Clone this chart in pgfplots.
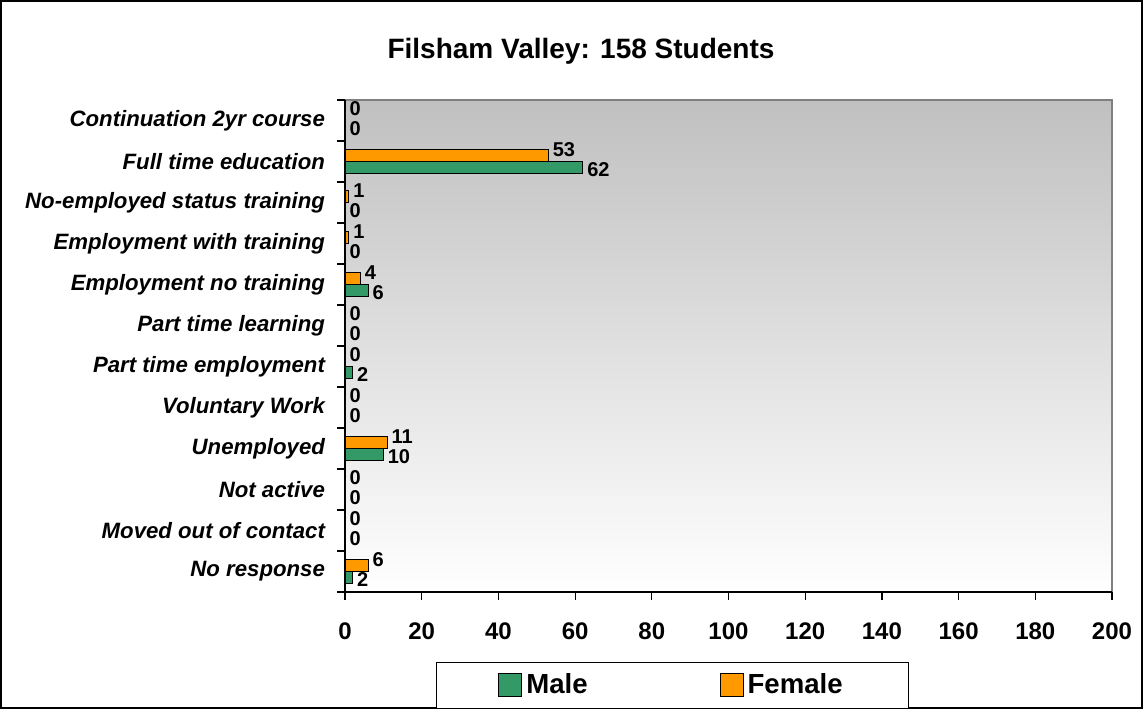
\documentclass[border=0pt]{standalone}
\usepackage{pgfplots}
\pgfplotsset{compat=1.18}
\usepackage{fontspec}
\setmainfont{Liberation Sans}
\definecolor{male}{HTML}{339966}
\definecolor{female}{HTML}{FF9900}
\definecolor{bgtop}{HTML}{C0C0C0}
\begin{document}
\begin{tikzpicture}
\useasboundingbox (0pt,0pt) rectangle (571.5pt,354.5pt);
\draw[black, line width=0.6pt] (0.5pt,0.5pt) rectangle (571pt,354pt);
\node[font=\bfseries\fontsize{14}{16}\selectfont] at (290.5pt,329pt) {Filsham Valley: 158 Students};
\begin{axis}[
  at={(172.5pt,58.5pt)}, anchor=south west,
  scale only axis, width=383.5pt, height=246pt,
  xbar, bar width=5.8pt,
  xmin=0, xmax=200, ymin=-0.5, ymax=11.5,
  xtick={0,20,...,200},
  ytick={0,...,11},
  yticklabels={No response, Moved out of contact, Not active, Unemployed, Voluntary Work, Part time employment, Part time learning, Employment no training, Employment with training, No-employed status training, Full time education, Continuation 2yr course},
  minor ytick={-0.5,0.5,...,11.5},
  tick align=outside,
  major tick length=4pt, minor tick length=4pt,
  major y tick style={draw=none},
  minor y tick style={draw=black, line width=0.6pt},
  major x tick style={draw=black, line width=0.6pt},
  axis x line*=bottom, axis y line*=left,
  axis line style={black, line width=0.6pt},
  axis background/.style={top color=bgtop, bottom color=white, draw=gray, line width=1pt},
  /pgf/number format/assume math mode=true,
  xticklabel style={font=\bfseries\fontsize{12}{14}\selectfont, yshift=-8pt},
  yticklabel style={font=\bfseries\itshape\fontsize{11.1}{13}\selectfont, xshift=-2.5pt},
  point meta=x,
  nodes near coords,
  legend style={at={(0.427,-0.19)}, anchor=center, draw=black, line width=0.6pt,
    inner xsep=31pt, inner ysep=3.6pt,
    legend columns=2,
    font=\bfseries\fontsize{13.8}{16}\selectfont,
    /tikz/column 2/.style={column sep=64pt}},
  legend image code/.code={\draw[#1, draw=black, line width=0.5pt] (0pt,-5.75pt) rectangle (11.5pt,5.75pt);},
]
\addplot[fill=male, draw=black, line width=0.5pt, bar shift=-2.9pt,
  every node near coord/.append style={font=\bfseries\fontsize{10}{12}\selectfont, anchor=west, inner xsep=2pt, inner ysep=0pt, yshift=-1.3pt, black}]
  coordinates {(2,0) (0,1) (0,2) (10,3) (0,4) (2,5) (0,6) (6,7) (0,8) (0,9) (62,10) (0,11)};
\addplot[fill=female, draw=black, line width=0.5pt, bar shift=2.9pt,
  every node near coord/.append style={font=\bfseries\fontsize{10}{12}\selectfont, anchor=west, inner xsep=2pt, inner ysep=0pt, yshift=3.2pt, black}]
  coordinates {(6,0) (0,1) (0,2) (11,3) (0,4) (0,5) (0,6) (4,7) (1,8) (1,9) (53,10) (0,11)};
\legend{Male, Female}
\end{axis}
\end{tikzpicture}
\end{document}
